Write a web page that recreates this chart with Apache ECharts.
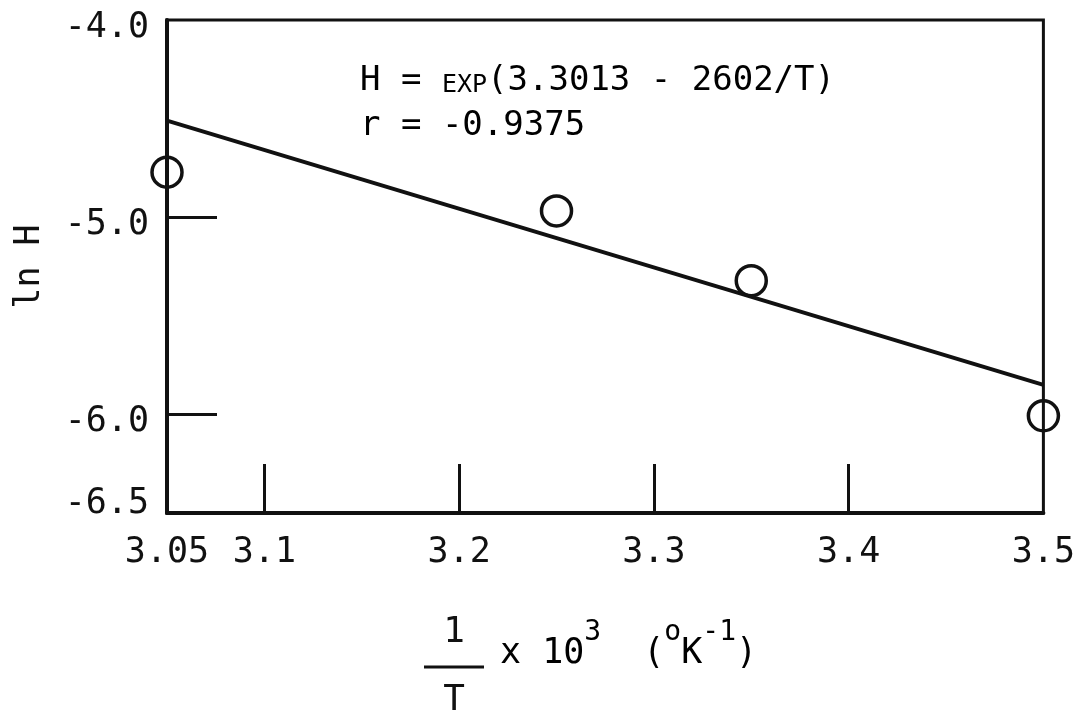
<!DOCTYPE html>
<html>
<head>
<meta charset="utf-8">
<title>ln H vs 1/T</title>
<script src="https://cdn.jsdelivr.net/npm/echarts@6/dist/echarts.min.js"></script>
<style>
  html, body { margin: 0; padding: 0; background: #fff; }
  #chart { width: 1078px; height: 713px; }
</style>
</head>
<body>
<div id="chart"></div>
<script>
// Measured points: reciprocal temperature (x 10^3) and ln H
const invT = [3.05, 3.25, 3.35, 3.5];
const lnH = [-4.772, -4.968, -5.322, -6.007];

// Fitted straight line, end points as drawn
const fitX = [3.05, 3.5];
const fitY = [-4.51, -5.85];

// Axis ticks and labels
const xLabelValues = [3.05, 3.1, 3.2, 3.3, 3.4, 3.5];
const xTickValues = [3.1, 3.2, 3.3, 3.4];
const yLabelValues = [-6.5, -6.0, -5.0, -4.0];
const yTickValues = [-6.0, -5.0];

// Annotation text
const fitText = ['H = ', 'EXP', '(3.3013 - 2602/T)'];
const corrText = 'r = -0.9375';

const FONT = '"DejaVu Sans Mono", "Liberation Mono", monospace';
const INK = '#111';
const yMin = -6.5;

const chart = echarts.init(document.getElementById('chart'), null, { renderer: 'canvas' });

const tickFont = { fontFamily: FONT, fontSize: 35, color: INK };

const option = {
  backgroundColor: '#fff',
  animation: false,
  grid: {
    left: 167, right: 32, top: 20, bottom: 200,
    show: true, borderColor: INK, borderWidth: 3, backgroundColor: 'transparent'
  },
  xAxis: {
    type: 'value',
    min: 3.05, max: 3.5,
    splitLine: { show: false },
    axisLine: { show: true, onZero: false, lineStyle: { color: INK, width: 4 } },
    axisTick: {
      show: true, inside: true, length: 49,
      customValues: xTickValues,
      lineStyle: { color: INK, width: 3 }
    },
    axisLabel: Object.assign({
      show: true, margin: 22,
      customValues: xLabelValues,
      formatter: v => String(+(+v).toFixed(2))
    }, tickFont)
  },
  yAxis: {
    type: 'value',
    min: yMin, max: -4.0,
    name: 'ln H',
    nameLocation: 'middle',
    nameGap: 120,
    nameRotate: 90,
    nameTextStyle: { fontFamily: FONT, fontSize: 35, color: INK },
    splitLine: { show: false },
    axisLine: { show: true, onZero: false, lineStyle: { color: INK, width: 4 } },
    axisTick: {
      show: true, inside: true, length: 50,
      customValues: yTickValues,
      lineStyle: { color: INK, width: 3 }
    },
    axisLabel: {
      show: true, margin: 18,
      customValues: yLabelValues,
      // labels sit a little below their tick; the bottom one sits above the axis
      formatter: v => (+v === yMin ? '{hi|' : '{lo|') + (+v).toFixed(1) + '}',
      rich: {
        lo: Object.assign({ padding: [16, 0, 0, 0] }, tickFont),
        hi: Object.assign({ padding: [0, 0, 18, 0] }, tickFont)
      }
    }
  },
  series: [
    {
      type: 'line',
      data: fitX.map((x, i) => [x, fitY[i]]),
      symbol: 'none',
      clip: false,
      lineStyle: { color: INK, width: 3.8 },
      z: 2
    },
    {
      type: 'scatter',
      data: invT.map((x, i) => [x, lnH[i]]),
      symbol: 'circle',
      symbolSize: 30,
      clip: false,
      itemStyle: { color: 'rgba(0,0,0,0)', borderColor: INK, borderWidth: 3.5, opacity: 1 },
      z: 3
    }
  ],
  graphic: [
    {
      type: 'text', left: 360, top: 64,
      style: {
        text: '{a|' + fitText[0] + '}{s|' + fitText[1] + '}{a|' + fitText[2] + '}\n{a|' + corrText + '}',
        rich: {
          a: { fontFamily: FONT, fontSize: 34, lineHeight: 45, color: INK, verticalAlign: 'bottom' },
          s: { fontFamily: FONT, fontSize: 25, lineHeight: 45, color: INK, verticalAlign: 'bottom' }
        }
      }
    },
    // x-axis title: 1/T as a stacked fraction, then the rest on one line
    {
      type: 'text', x: 454, y: 615,
      style: { text: '1', fontFamily: FONT, fontSize: 36, fill: INK, align: 'center', verticalAlign: 'top' }
    },
    {
      type: 'line',
      shape: { x1: 424, y1: 667, x2: 484, y2: 667 },
      style: { stroke: INK, lineWidth: 3 }
    },
    {
      type: 'text', x: 454, y: 683,
      style: { text: 'T', fontFamily: FONT, fontSize: 36, fill: INK, align: 'center', verticalAlign: 'top' }
    },
    {
      type: 'text', x: 500, y: 619,
      style: {
        text: '{n|x 10}{s|3}{n|  (}{s|o}{n|K}{s|-1}{n|)}',
        rich: {
          n: { fontFamily: FONT, fontSize: 35, lineHeight: 52, color: INK, verticalAlign: 'bottom' },
          s: { fontFamily: FONT, fontSize: 28, lineHeight: 52, color: INK, verticalAlign: 'top' }
        }
      }
    }
  ]
};

chart.setOption(option);
</script>
</body>
</html>
